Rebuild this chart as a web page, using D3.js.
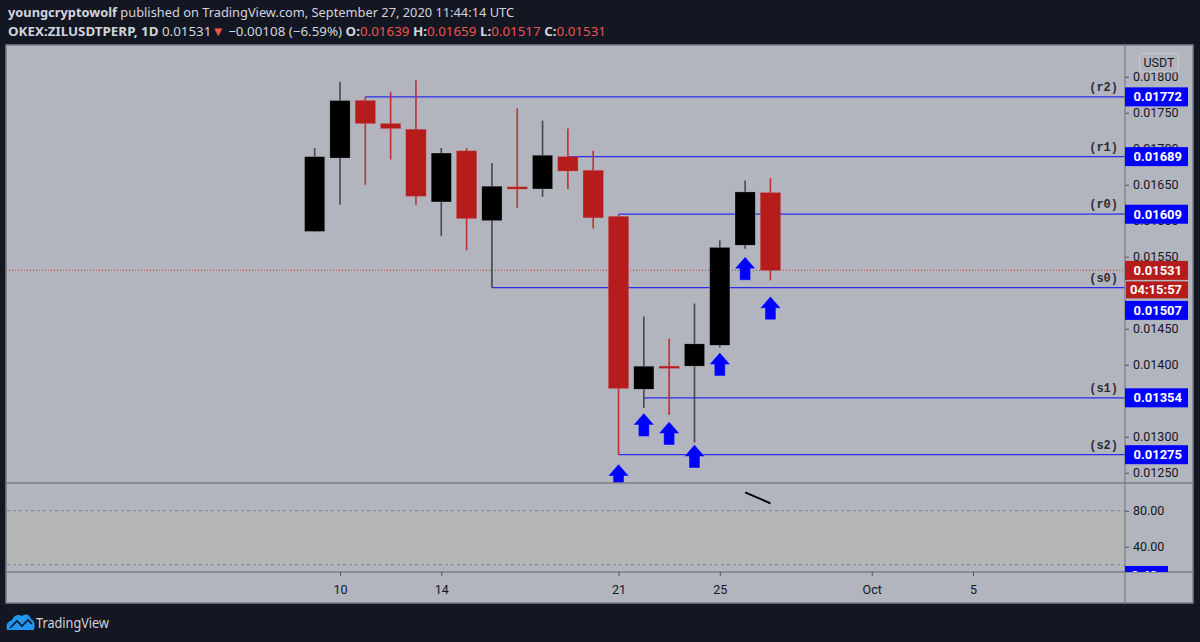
<!DOCTYPE html>
<html>
<head>
<meta charset="utf-8">
<script src="https://cdn.jsdelivr.net/npm/d3@7"></script>
<style>
  html, body { margin: 0; padding: 0; background: #131722; }
  svg { display: block; }
</style>
</head>
<body>
<svg id="chart" width="1200" height="642"></svg>
<script>
// ---------------- DATA ----------------
const dates = ["2020-09-09","2020-09-10","2020-09-11","2020-09-12","2020-09-13","2020-09-14","2020-09-15","2020-09-16","2020-09-17","2020-09-18","2020-09-19","2020-09-20","2020-09-21","2020-09-22","2020-09-23","2020-09-24","2020-09-25","2020-09-26","2020-09-27"];
const openV  = [0.01585,0.01687,0.01767,0.01735,0.01727,0.01626,0.01697,0.01600,0.01647,0.01644,0.01689,0.01670,0.01606,0.01366,0.01398,0.01398,0.01427,0.01566,0.01639];
const highV  = [0.01701,0.01793,0.01772,0.01779,0.01795,0.01701,0.01701,0.01680,0.01756,0.01739,0.01728,0.01697,0.01609,0.01467,0.01436,0.01485,0.01573,0.01656,0.01659];
const lowV   = [0.01584,0.01622,0.01650,0.01685,0.01622,0.01579,0.01559,0.01507,0.01618,0.01633,0.01644,0.01589,0.01275,0.01340,0.01330,0.01292,0.01424,0.01561,0.01517];
const closeV = [0.01689,0.01767,0.01735,0.01728,0.01634,0.01694,0.01603,0.01648,0.01644,0.01691,0.01669,0.01604,0.01367,0.01398,0.01395,0.01429,0.01563,0.01640,0.01531];

const levelNames  = ["r2","r1","r0","s0","s1","s2"];
const levelValues = [0.01772,0.01689,0.01609,0.01507,0.01354,0.01275];
const levelStarts = ["2020-09-11","2020-09-19","2020-09-21","2020-09-16","2020-09-22","2020-09-21"];

const arrowDates  = ["2020-09-21","2020-09-22","2020-09-23","2020-09-24","2020-09-25","2020-09-26","2020-09-27"];
const arrowPrices = [0.01262,0.01333,0.01321,0.01289,0.01417,0.01550,0.01495];

// 0.0150 and 0.0135 are fully hidden behind labels in the reference
const priceTicks = [0.0125,0.0130,0.0140,0.0145,0.0155,0.0160,0.0165,0.0170,0.0175,0.0180];
const timeTickDates  = ["2020-09-10","2020-09-14","2020-09-21","2020-09-25","2020-10-01","2020-10-05"];
const timeTickLabels = ["10","14","21","25","Oct","5"];

const oscDates  = ["2020-09-26","2020-09-27"];
const oscValues = [100.4, 88.2];
const oscTicks  = [80, 40];
const oscBand   = [20, 80];

const lastPrice = 0.01531;
const countdown = "04:15:57";

// ---------------- LAYOUT ----------------
const parse = s => new Date(s + "T00:00:00Z");
const L = 6, R = 1193, T = 45, B = 603;
const axisX = 1125;
const mainBottom = 483, oscBottom = 572;

const svg = d3.select("#chart");
const bg = "#b2b5be";
const red = "#b71c1c", redWick = "#c03030", black = "#000000";
const blue = "#0000ff", lineBlue = "#2b2bf0";
const txt = "#131722";

const x = d3.scaleUtc().domain([parse("2020-09-10"), parse("2020-10-05")]).range([340, 973]);
const y = d3.scaleLinear().domain([0.0125, 0.018]).range([472.7, 76.7]);
const yo = d3.scaleLinear().domain([20, 80]).range([564.7, 510.7]);
const dayW = x(parse("2020-09-11")) - x(parse("2020-09-10"));
const bodyW = dayW * 0.8;

// header
const hdr = svg.append("g").attr("font-family", "'Noto Sans', sans-serif").attr("font-size", 13).attr("fill", "#d1d4dc");
const l1 = hdr.append("text").attr("x", 8).attr("y", 17);
l1.append("tspan").attr("font-weight", "bold").text("youngcryptowolf");
l1.append("tspan").text(" published on TradingView.com, September 27, 2020 11:44:14 UTC");
l1.attr("textLength", 506).attr("lengthAdjust", "spacingAndGlyphs");
const l2 = hdr.append("text").attr("x", 8).attr("y", 36);
const hred = "#ef5350";
[["OKEX:ZILUSDTPERP, 1D", "bold", null], ["  0.01531", "normal", null], ["▼", "normal", hred],
 [" −0.00108 (−6.59%) ", "normal", null], ["O:", "bold", null], ["0.01639", "normal", hred],
 [" H:", "bold", null], ["0.01659", "normal", hred], [" L:", "bold", null], ["0.01517", "normal", hred],
 [" C:", "bold", null], ["0.01531", "normal", hred]].forEach(([t, w, c]) => {
  const ts = l2.append("tspan").attr("font-weight", w).text(t);
  if (c) ts.attr("fill", c);
});
l2.attr("textLength", 598).attr("lengthAdjust", "spacingAndGlyphs");

// chart frame
svg.append("rect").attr("x", L).attr("y", T).attr("width", R - L).attr("height", B - T)
  .attr("fill", bg).attr("stroke", "#7b7e88").attr("stroke-width", 1.5);

// oscillator band
svg.append("rect").attr("x", L + 1).attr("y", yo(oscBand[1])).attr("width", axisX - L - 1)
  .attr("height", yo(oscBand[0]) - yo(oscBand[1])).attr("fill", "#b5b7b4");
oscBand.forEach(v => {
  svg.append("line").attr("x1", L + 1).attr("x2", axisX).attr("y1", yo(v)).attr("y2", yo(v))
    .attr("stroke", "#7e818a").attr("stroke-dasharray", "3,3").attr("stroke-width", 1);
});

// clip for panes
const defs = svg.append("defs");
defs.append("clipPath").attr("id", "mainClip").append("rect")
  .attr("x", L).attr("y", T).attr("width", axisX - L).attr("height", mainBottom - T);
defs.append("clipPath").attr("id", "oscClip").append("rect")
  .attr("x", L).attr("y", mainBottom).attr("width", R - L).attr("height", oscBottom - mainBottom);

const main = svg.append("g").attr("clip-path", "url(#mainClip)");

// levels
levelValues.forEach((v, i) => {
  main.append("line").attr("x1", x(parse(levelStarts[i]))).attr("x2", axisX)
    .attr("y1", y(v)).attr("y2", y(v)).attr("stroke", lineBlue).attr("stroke-width", 1.2);
  main.append("text").attr("x", 1118).attr("y", y(v) - 6).attr("text-anchor", "end")
    .attr("font-family", "'Liberation Mono', monospace").attr("font-weight", "bold")
    .attr("font-size", 12).attr("fill", "#2a2e39").text("(" + levelNames[i] + ")");
});

// last price dotted line
main.append("line").attr("x1", L).attr("x2", axisX).attr("y1", y(lastPrice)).attr("y2", y(lastPrice))
  .attr("stroke", "#d32f2f").attr("stroke-width", 1).attr("stroke-dasharray", "1,2");

// candles
const candles = dates.map((d, i) => ({ d: parse(d), o: openV[i], h: highV[i], l: lowV[i], c: closeV[i] }));
const cg = main.append("g");
candles.forEach(c => {
  const up = c.c >= c.o;
  const cx = x(c.d);
  cg.append("line").attr("x1", cx).attr("x2", cx).attr("y1", y(c.h)).attr("y2", y(c.l))
    .attr("stroke", up ? "#45474d" : redWick).attr("stroke-width", 1.6);
  const top = y(Math.max(c.o, c.c)), bot = y(Math.min(c.o, c.c));
  cg.append("rect").attr("x", cx - bodyW / 2).attr("y", top).attr("width", bodyW)
    .attr("height", Math.max(2, bot - top)).attr("fill", up ? black : red)
    .attr("stroke", up ? "#c4c6cc" : "#c66a6a").attr("stroke-width", 0.5).attr("stroke-opacity", 0.6);
});

// arrows
arrowDates.forEach((d, i) => {
  const cx = x(parse(d)), ty = y(arrowPrices[i]);
  const hw = 10.5, hh = 12, sw = 5.5, th = 23.5;
  const pts = [[cx, ty], [cx + hw, ty + hh], [cx + sw, ty + hh], [cx + sw, ty + th],
               [cx - sw, ty + th], [cx - sw, ty + hh], [cx - hw, ty + hh]];
  main.append("polygon").attr("points", pts.map(p => p.join(",")).join(" ")).attr("fill", blue)
    .attr("stroke", "#d0d4f0").attr("stroke-width", 0.6).attr("stroke-opacity", 0.7);
});

// oscillator line
const osc = svg.append("g").attr("clip-path", "url(#oscClip)");
osc.append("path").datum(oscDates.map((d, i) => [x(parse(d)), yo(oscValues[i])]))
  .attr("d", d3.line()).attr("fill", "none").attr("stroke", "#000").attr("stroke-width", 2);

// separators
[mainBottom, oscBottom].forEach(yy => {
  svg.append("line").attr("x1", L).attr("x2", R).attr("y1", yy).attr("y2", yy)
    .attr("stroke", "#7b7e88").attr("stroke-width", 1.5);
});
svg.append("line").attr("x1", axisX).attr("x2", axisX).attr("y1", T).attr("y2", B)
  .attr("stroke", "#7b7e88").attr("stroke-width", 1.2);

// price axis
const fontAx = "Roboto, 'Noto Sans', sans-serif";
const pa = svg.append("g").attr("transform", `translate(${axisX},0)`)
  .call(d3.axisRight(y).tickValues(priceTicks).tickFormat(d3.format(".5f")).tickSize(4).tickPadding(4));
pa.select(".domain").remove();
pa.selectAll("line").attr("stroke", "#50535e");
pa.selectAll("text").attr("font-family", fontAx).attr("font-size", 12.5).attr("fill", txt);

const oa = svg.append("g").attr("transform", `translate(${axisX},0)`)
  .call(d3.axisRight(yo).tickValues(oscTicks).tickFormat(d3.format(".2f")).tickSize(4).tickPadding(4));
oa.select(".domain").remove();
oa.selectAll("line").attr("stroke", "#50535e");
oa.selectAll("text").attr("font-family", fontAx).attr("font-size", 12.5).attr("fill", txt);

// time axis
const ta = svg.append("g").attr("transform", `translate(0,${oscBottom})`)
  .call(d3.axisBottom(x).tickValues(timeTickDates.map(parse))
    .tickFormat((d, i) => timeTickLabels[i]).tickSize(4).tickPadding(9));
ta.select(".domain").remove();
ta.selectAll("line").attr("stroke", "#50535e");
ta.selectAll("text").attr("font-family", fontAx).attr("font-size", 12.5).attr("fill", txt);

// USDT box
svg.append("rect").attr("x", 1139.5).attr("y", 53.5).attr("width", 39).attr("height", 18.5).attr("rx", 3)
  .attr("fill", bg).attr("stroke", "#c9cbd1").attr("stroke-width", 1);
svg.append("text").attr("x", 1159).attr("y", 67).attr("text-anchor", "middle")
  .attr("font-family", fontAx).attr("font-size", 12.5).attr("fill", txt).text("USDT");

// price labels
function priceLabel(cy, text, fill, w, xoff) {
  const h = 19;
  svg.append("rect").attr("x", axisX + (xoff || 0)).attr("y", cy - h / 2).attr("width", w || 63).attr("height", h).attr("fill", fill);
  svg.append("text").attr("x", axisX + 8.5).attr("y", cy + 4.5).attr("font-family", fontAx)
    .attr("font-weight", "bold").attr("font-size", 13).attr("fill", "#fff").text(text);
}
const lastY = y(lastPrice);
const cdTop = lastY + 11, cdH = 17;
levelValues.forEach((v, i) => {
  let cy = y(v);
  if (cy + 9.5 > cdTop && cy - 9.5 < cdTop + cdH) cy = cdTop + cdH + 2.5 + 9.5;
  priceLabel(cy, d3.format(".5f")(v), blue);
});
priceLabel(lastY, d3.format(".5f")(lastPrice), red);
svg.append("rect").attr("x", axisX + 1).attr("y", cdTop).attr("width", 62).attr("height", cdH).attr("fill", red);
svg.append("text").attr("x", axisX + 5).attr("y", cdTop + 13).attr("font-family", fontAx)
  .attr("font-weight", "bold").attr("font-size", 13).attr("fill", "#fff").text(countdown);

// oscillator clipped label
const oscLab = svg.append("g").attr("clip-path", "url(#oscClip)");
oscLab.append("rect").attr("x", axisX).attr("y", 566).attr("width", 43).attr("height", 19).attr("fill", blue);
oscLab.append("text").attr("x", axisX + 6).attr("y", 580).attr("font-family", fontAx).attr("font-weight", "bold")
  .attr("font-size", 13).attr("fill", "#fff").text("2.40");

// TradingView logo
const logo = svg.append("g");
logo.append("path").attr("d", "M7,630 Q5,622 12,620 Q15,613 22,616 Q28,612 31,619 Q36,621 34,630 Z").attr("fill", "#2196f3");
logo.append("path").attr("d", "M10,628 L17,621 L22,626 L28,620 L32,624").attr("fill", "none")
  .attr("stroke", "#131722").attr("stroke-width", 1.6);
svg.append("text").attr("x", 36).attr("y", 627.5).attr("font-family", "'Noto Sans', sans-serif")
  .attr("font-size", 13.5).attr("fill", "#d1d4dc").attr("textLength", 73).attr("lengthAdjust", "spacingAndGlyphs").text("TradingView");
</script>
</body>
</html>
